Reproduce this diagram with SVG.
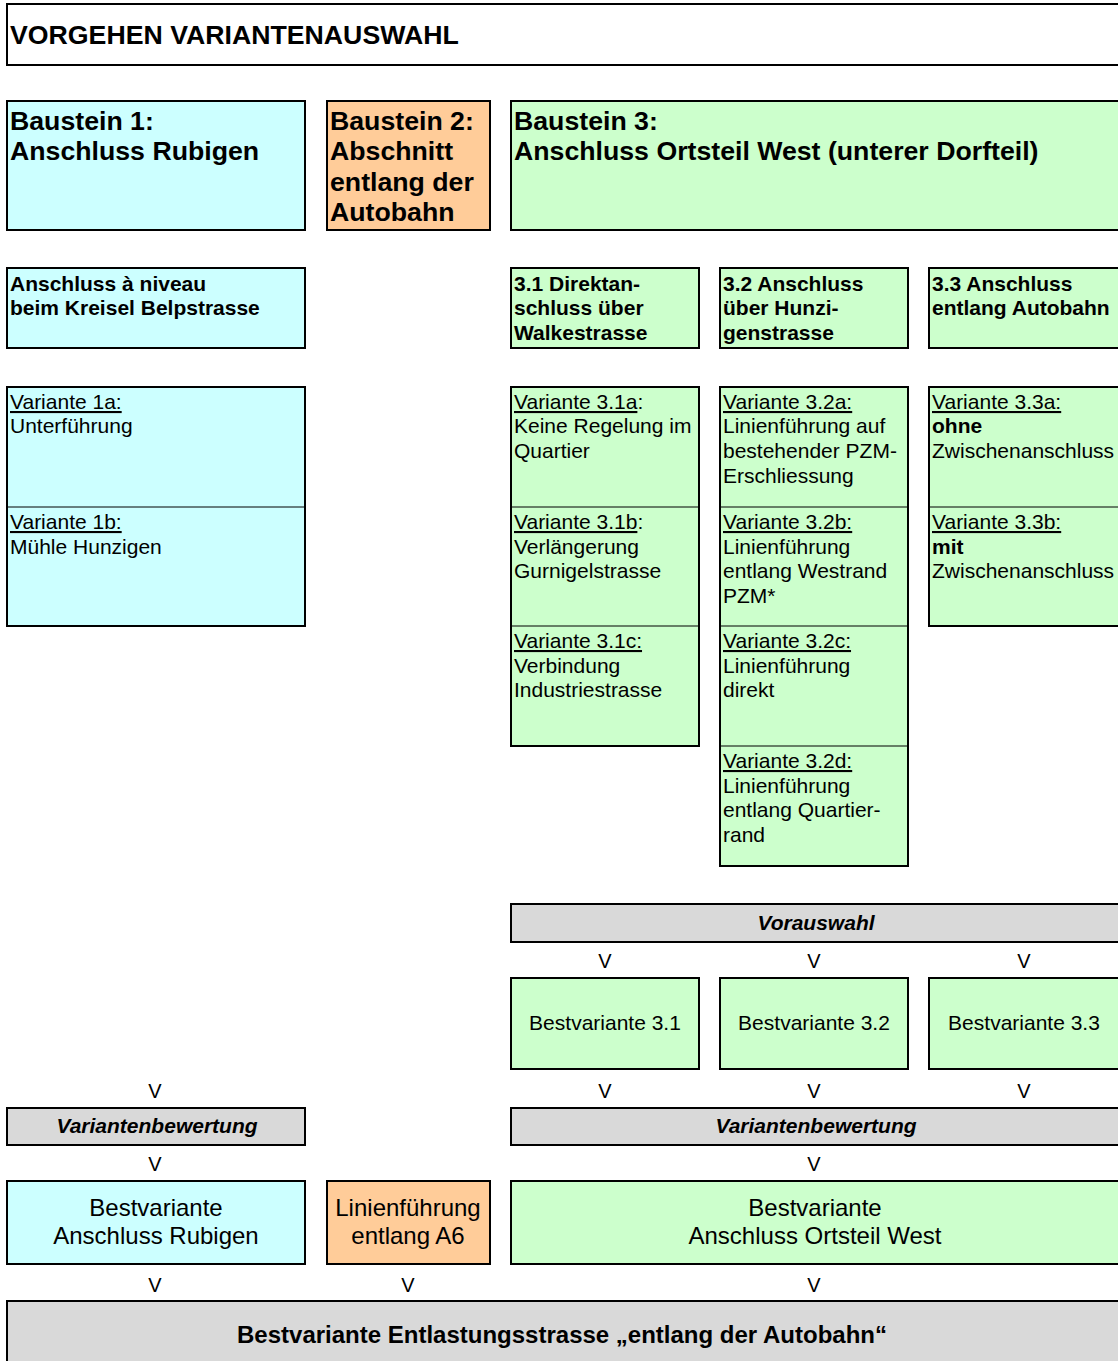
<svg xmlns="http://www.w3.org/2000/svg" width="1118" height="1361" viewBox="0 0 1118 1361">
<style>
text{font-family:"Liberation Sans",Arial,sans-serif;fill:#000}
.b{stroke:#000;stroke-width:2}
.sep{stroke:#000;stroke-width:1}
.cy{fill:#CCFFFF}.or{fill:#FFCC99}.gr{fill:#CCFFCC}.gy{fill:#D9D9D9}.wh{fill:#FFFFFF}
.h{font-size:26.7px;font-weight:bold}
.s{font-size:21px;font-weight:bold}
.r{font-size:21px}
.bi{font-size:21px;font-weight:bold;font-style:italic}
.m{font-size:24px}
.f{font-size:24px;font-weight:bold}
.v{font-size:20px}
.u{text-decoration:underline}
</style>
<g id="title"><rect class="b wh" x="7" y="4" width="1120" height="61"/><text class="h" x="10" y="44">VORGEHEN VARIANTENAUSWAHL</text></g>
<g id="baustein1"><rect class="b cy" x="7" y="101" width="298" height="129"/><text class="h" x="10" y="130">Baustein 1:</text><text class="h" x="10" y="160">Anschluss Rubigen</text></g>
<g id="baustein2"><rect class="b or" x="327" y="101" width="163" height="129"/><text class="h" x="330" y="130">Baustein 2:</text><text class="h" x="330" y="160">Abschnitt</text><text class="h" x="330" y="191">entlang der</text><text class="h" x="330" y="221">Autobahn</text></g>
<g id="baustein3"><rect class="b gr" x="511" y="101" width="620" height="129"/><text class="h" x="514" y="130">Baustein 3:</text><text class="h" x="514" y="160">Anschluss Ortsteil West (unterer Dorfteil)</text></g>
<g id="anschluss1"><rect class="b cy" x="7" y="268" width="298" height="80"/><text class="s" x="10" y="291">Anschluss à niveau</text><text class="s" x="10" y="315">beim Kreisel Belpstrasse</text></g>
<g id="teil31"><rect class="b gr" x="511" y="268" width="188" height="80"/><text class="s" x="514" y="291">3.1 Direktan-</text><text class="s" x="514" y="315">schluss über</text><text class="s" x="514" y="340">Walkestrasse</text></g>
<g id="teil32"><rect class="b gr" x="720" y="268" width="188" height="80"/><text class="s" x="723" y="291">3.2 Anschluss</text><text class="s" x="723" y="315">über Hunzi-</text><text class="s" x="723" y="340">genstrasse</text></g>
<g id="teil33"><rect class="b gr" x="929" y="268" width="200" height="80"/><text class="s" x="932" y="291">3.3 Anschluss</text><text class="s" x="932" y="315">entlang Autobahn</text></g>
<g id="varianten1"><rect class="b cy" x="7" y="387" width="298" height="239"/><line class="sep" x1="7" y1="507" x2="305" y2="507"/>
<text class="r" x="10" y="409"><tspan class="u">Variante 1a:</tspan></text><text class="r" x="10" y="433">Unterführung</text>
<text class="r" x="10" y="529"><tspan class="u">Variante 1b:</tspan></text><text class="r" x="10" y="554">Mühle Hunzigen</text></g>
<g id="varianten31"><rect class="b gr" x="511" y="387" width="188" height="359"/><line class="sep" x1="511" y1="507" x2="699" y2="507"/><line class="sep" x1="511" y1="626" x2="699" y2="626"/>
<text class="r" x="514" y="409"><tspan class="u">Variante 3.1a</tspan>:</text><text class="r" x="514" y="433">Keine Regelung im</text><text class="r" x="514" y="458">Quartier</text>
<text class="r" x="514" y="529"><tspan class="u">Variante 3.1b</tspan>:</text><text class="r" x="514" y="554">Verlängerung</text><text class="r" x="514" y="578">Gurnigelstrasse</text>
<text class="r" x="514" y="648"><tspan class="u">Variante 3.1c:</tspan></text><text class="r" x="514" y="673">Verbindung</text><text class="r" x="514" y="697">Industriestrasse</text></g>
<g id="varianten32"><rect class="b gr" x="720" y="387" width="188" height="479"/><line class="sep" x1="720" y1="507" x2="908" y2="507"/><line class="sep" x1="720" y1="626" x2="908" y2="626"/><line class="sep" x1="720" y1="746" x2="908" y2="746"/>
<text class="r" x="723" y="409"><tspan class="u">Variante 3.2a:</tspan></text><text class="r" x="723" y="433">Linienführung auf</text><text class="r" x="723" y="458">bestehender PZM-</text><text class="r" x="723" y="483">Erschliessung</text>
<text class="r" x="723" y="529"><tspan class="u">Variante 3.2b:</tspan></text><text class="r" x="723" y="554">Linienführung</text><text class="r" x="723" y="578">entlang Westrand</text><text class="r" x="723" y="603">PZM*</text>
<text class="r" x="723" y="648"><tspan class="u">Variante 3.2c:</tspan></text><text class="r" x="723" y="673">Linienführung</text><text class="r" x="723" y="697">direkt</text>
<text class="r" x="723" y="768"><tspan class="u">Variante 3.2d:</tspan></text><text class="r" x="723" y="793">Linienführung</text><text class="r" x="723" y="817">entlang Quartier-</text><text class="r" x="723" y="842">rand</text></g>
<g id="varianten33"><rect class="b gr" x="929" y="387" width="200" height="239"/><line class="sep" x1="929" y1="507" x2="1118" y2="507"/>
<text class="r" x="932" y="409"><tspan class="u">Variante 3.3a:</tspan></text><text class="s" x="932" y="433">ohne</text><text class="r" x="932" y="458">Zwischenanschluss</text>
<text class="r" x="932" y="529"><tspan class="u">Variante 3.3b:</tspan></text><text class="s" x="932" y="554">mit</text><text class="r" x="932" y="578">Zwischenanschluss</text></g>
<g id="vorauswahl"><rect class="b gy" x="511" y="904" width="620" height="38"/><text class="bi" x="816" y="930" text-anchor="middle">Vorauswahl</text></g>
<g id="best31"><rect class="b gr" x="511" y="978" width="188" height="91"/><text class="r" x="605" y="1030" text-anchor="middle">Bestvariante 3.1</text></g>
<g id="best32"><rect class="b gr" x="720" y="978" width="188" height="91"/><text class="r" x="814" y="1030" text-anchor="middle">Bestvariante 3.2</text></g>
<g id="best33"><rect class="b gr" x="929" y="978" width="200" height="91"/><text class="r" x="1024" y="1030" text-anchor="middle">Bestvariante 3.3</text></g>
<g id="bewertung1"><rect class="b gy" x="7" y="1108" width="298" height="37"/><text class="bi" x="157" y="1133" text-anchor="middle">Variantenbewertung</text></g>
<g id="bewertung3"><rect class="b gy" x="511" y="1108" width="620" height="37"/><text class="bi" x="816" y="1133" text-anchor="middle">Variantenbewertung</text></g>
<g id="bestRubigen"><rect class="b cy" x="7" y="1181" width="298" height="83"/><text class="m" x="156" y="1216" text-anchor="middle">Bestvariante</text><text class="m" x="156" y="1244" text-anchor="middle">Anschluss Rubigen</text></g>
<g id="bestA6"><rect class="b or" x="327" y="1181" width="163" height="83"/><text class="m" x="408" y="1216" text-anchor="middle">Linienführung</text><text class="m" x="408" y="1244" text-anchor="middle">entlang A6</text></g>
<g id="bestWest"><rect class="b gr" x="511" y="1181" width="620" height="83"/><text class="m" x="815" y="1216" text-anchor="middle">Bestvariante</text><text class="m" x="815" y="1244" text-anchor="middle">Anschluss Ortsteil West</text></g>
<g id="final"><rect class="b gy" x="7" y="1301" width="1125" height="70"/><text class="f" x="562" y="1343" text-anchor="middle">Bestvariante Entlastungsstrasse „entlang der Autobahn“</text></g>
<g id="connectors">
<text class="v" x="605" y="968" text-anchor="middle">V</text><text class="v" x="814" y="968" text-anchor="middle">V</text><text class="v" x="1024" y="968" text-anchor="middle">V</text>
<text class="v" x="155" y="1098" text-anchor="middle">V</text><text class="v" x="605" y="1098" text-anchor="middle">V</text><text class="v" x="814" y="1098" text-anchor="middle">V</text><text class="v" x="1024" y="1098" text-anchor="middle">V</text>
<text class="v" x="155" y="1171" text-anchor="middle">V</text><text class="v" x="814" y="1171" text-anchor="middle">V</text>
<text class="v" x="155" y="1292" text-anchor="middle">V</text><text class="v" x="408" y="1292" text-anchor="middle">V</text><text class="v" x="814" y="1292" text-anchor="middle">V</text>
</g>
</svg>
